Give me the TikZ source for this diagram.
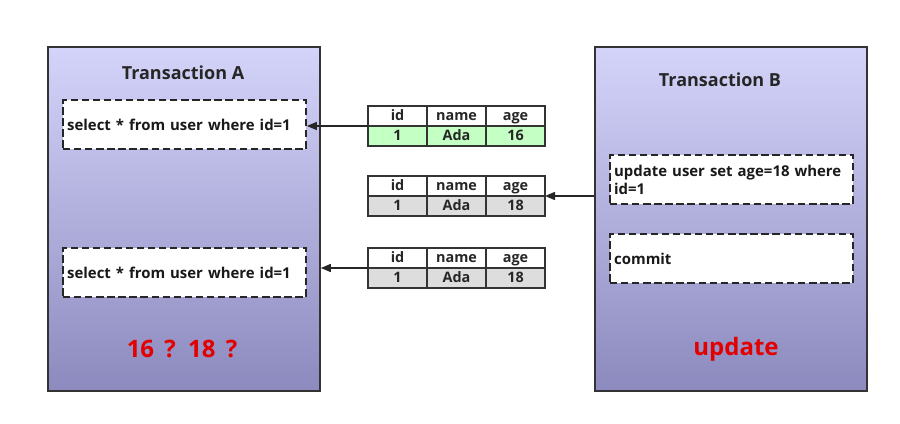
\documentclass[tikz,border=0pt]{standalone}
\usepackage{fontspec}
\setmainfont{Open Sans}
\usetikzlibrary{positioning,arrows.meta}
\definecolor{txtop}{RGB}{212,212,250}
\definecolor{txbot}{RGB}{140,138,190}
\definecolor{rowgreen}{RGB}{196,255,196}
\definecolor{rowgray}{RGB}{221,221,221}
\definecolor{alertred}{RGB}{226,0,0}

\begin{document}
\begin{tikzpicture}[x=0.75pt,y=-0.75pt,font=\bfseries\fontsize{11.2}{13.4}\selectfont,
 txn/.style={draw=black!80,line width=1.2pt,top color=txtop,bottom color=txbot,minimum width=204pt,minimum height=258pt,inner sep=0pt},
 ttl/.style={font=\bfseries\fontsize{13.5}{16}\selectfont,text=black!85},
 sql/.style={draw=black!85,line width=1.3pt,dash pattern=on 5.5pt off 2.8pt,fill=white,minimum width=182.25pt,minimum height=36.75pt,text width=176pt,align=left,inner sep=3pt,text=black!90},
 cell/.style={draw=black!80,line width=1pt,minimum width=44.25pt,minimum height=15pt,inner sep=0pt,outer sep=0pt,text height=1.55ex,text depth=.2ex,font=\bfseries\fontsize{10.8}{12}\selectfont,text=black!85},
 arr/.style={-{Triangle[length=7.5pt,width=6pt]},line width=1.1pt,black!85},
 alert/.style={text=alertred,font=\bfseries\fontsize{18}{21}\selectfont}]
\useasboundingbox (0,0) rectangle (900,424);
% the two transactions
\node[txn] (txA) at (184,219) {};
\node[txn] (txB) at (731,219) {};
\node[ttl] (ttlA) at (183,73) {Transaction A};
\node[ttl] (ttlB) at (720,80) {Transaction B};
\node[sql] (q1) at (184.5,124.5) {select * from user where id=1};
\node[sql] (q2) at (184.5,272.5) {select * from user where id=1};
\node[sql] (upd) at (731.5,179.5) {update user set age=18 where\\id=1};
\node[sql] (cmt) at (731.5,258.5) {commit};
\node[alert] (resA) at (182,349) {16 \,?\, 18 \,?};
\node[alert] (resB) at (736,349) {update};
% rows of user
\foreach \t/\yy/\val/\clr in {1/116/16/rowgreen,2/186/18/rowgray,3/258/18/rowgray}{
  \node[cell,fill=white] (t\t-id) at (397.5,\yy) {id};
  \node[cell,fill=white,right=0pt of t\t-id] (t\t-name) {name};
  \node[cell,fill=white,right=0pt of t\t-name] (t\t-age) {age};
  \node[cell,fill=\clr,below=0pt of t\t-id] (t\t-vid) {1};
  \node[cell,fill=\clr,below=0pt of t\t-name] (t\t-vname) {Ada};
  \node[cell,fill=\clr,below=0pt of t\t-age] (t\t-vage) {\val};
}
\draw[arr] (t1-id.south west) -- (t1-id.south west -| q1.east);
\draw[arr] (t2-age.south east -| txB.west) -- (t2-age.south east);
\draw[arr] (t3-id.south west) -- (t3-id.south west -| txA.east);
\end{tikzpicture}
\end{document}
